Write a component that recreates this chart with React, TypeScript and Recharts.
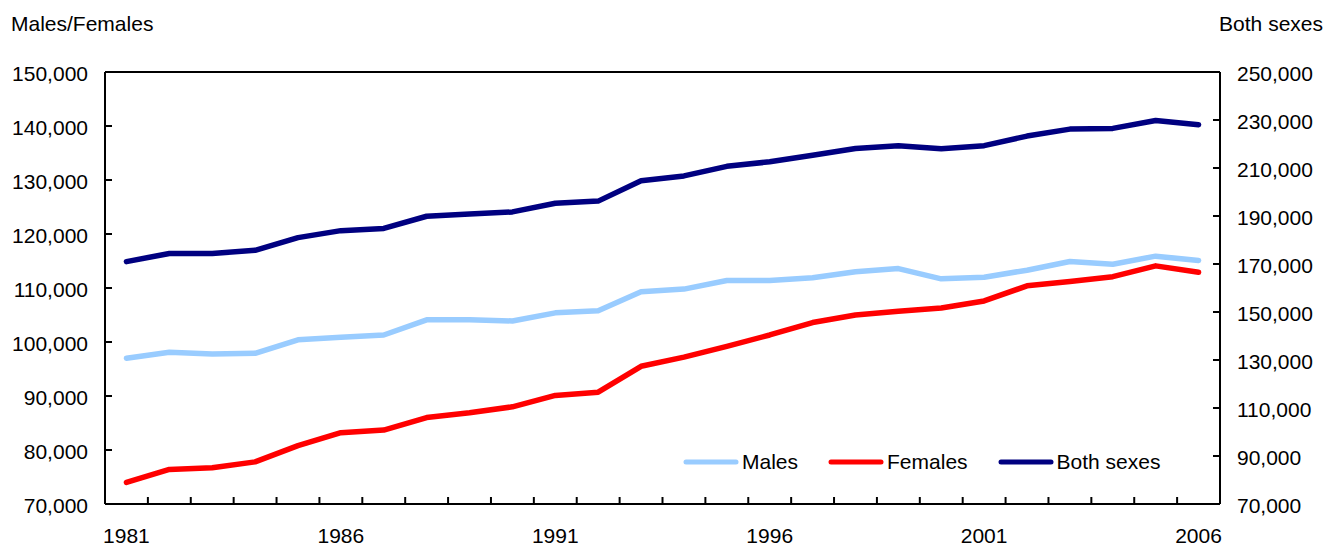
import { Legend, Line, LineChart, ReferenceLine, XAxis, YAxis } from "recharts";

const years = [
  1981, 1982, 1983, 1984, 1985, 1986, 1987, 1988, 1989, 1990, 1991, 1992, 1993,
  1994, 1995, 1996, 1997, 1998, 1999, 2000, 2001, 2002, 2003, 2004, 2005, 2006,
];
const males = [
  97000, 98100, 97800, 97900, 100400, 100900, 101300, 104100, 104100, 103900,
  105400, 105800, 109300, 109800, 111400, 111400, 111900, 113000, 113600, 111700,
  112000, 113300, 114900, 114400, 115900, 115100,
];
const females = [
  74000, 76400, 76700, 77800, 80800, 83200, 83700, 86000, 86900, 88000, 90100,
  90700, 95500, 97200, 99200, 101300, 103600, 105000, 105700, 106300, 107600,
  110400, 111200, 112100, 114100, 112900,
];
const bothSexes = [
  171000, 174400, 174400, 175700, 181000, 183900, 184800, 189900, 190800, 191700,
  195300, 196200, 204700, 206700, 210700, 212600, 215300, 218100, 219300, 218000,
  219300, 223300, 226200, 226500, 229800, 228000,
];
const seriesNames = ["Males", "Females", "Both sexes"];
const yearLabels = [1981, 1986, 1991, 1996, 2001, 2006];
const leftTicks = [70000, 80000, 90000, 100000, 110000, 120000, 130000, 140000, 150000];
const rightTicks = [70000, 90000, 110000, 130000, 150000, 170000, 190000, 210000, 230000, 250000];

const data = years.map((year, i) => ({
  year,
  males: males[i],
  females: females[i],
  both: bothSexes[i],
}));

// tick marks sit between the years, labels only every fifth year
const yearBoundaries = years.slice(0, -1).map((y) => y + 0.5);
const xTicks = [...yearBoundaries, ...yearLabels].sort((a, b) => a - b);

const font = '"Liberation Sans", Arial, sans-serif';
const fontSize = 21;
const tickLen = 7;

const fmt = (v: number) => v.toLocaleString("en-US");

function XTick({ x, y, payload }: any) {
  const v = payload.value as number;
  if (Number.isInteger(v)) {
    return (
      <text x={x} y={y + 31} textAnchor="middle" dominantBaseline="central"
        fontSize={fontSize} fontFamily={font} fill="#000">
        {v}
      </text>
    );
  }
  return <line x1={x} y1={y} x2={x} y2={y - tickLen} stroke="#000" strokeWidth={2} />;
}

function LeftTick({ x, y, payload }: any) {
  return (
    <g>
      <line x1={x} y1={y} x2={x + tickLen} y2={y} stroke="#000" strokeWidth={2} />
      <text x={x - 17} y={y + 1} textAnchor="end" dominantBaseline="central"
        fontSize={fontSize} fontFamily={font} fill="#000">
        {fmt(payload.value)}
      </text>
    </g>
  );
}

function RightTick({ x, y, payload }: any) {
  return (
    <g>
      <line x1={x - tickLen} y1={y} x2={x} y2={y} stroke="#000" strokeWidth={2} />
      <text x={x + 17} y={y + 1} textAnchor="start" dominantBaseline="central"
        fontSize={fontSize} fontFamily={font} fill="#000">
        {fmt(payload.value)}
      </text>
    </g>
  );
}

function LegendContent({ payload }: any) {
  const items = [...(payload || [])].sort(
    (a: any, b: any) => seriesNames.indexOf(a.value) - seriesNames.indexOf(b.value)
  );
  return (
    <div style={{ display: "flex", alignItems: "center", gap: 30, fontFamily: font }}>
      {items.map((entry: any) => (
        <div key={entry.value} style={{ display: "flex", alignItems: "center" }}>
          <svg width={56} height={10}>
            <line x1={3} y1={5} x2={53} y2={5} stroke={entry.color}
              strokeWidth={5} strokeLinecap="round" />
          </svg>
          <span style={{ marginLeft: 3, fontSize, lineHeight: "21px", color: "#000" }}>
            {entry.value}
          </span>
        </div>
      ))}
    </div>
  );
}

export default function App() {
  const titleStyle = {
    position: "absolute" as const,
    top: 13,
    fontSize,
    lineHeight: "21px",
    fontFamily: font,
    color: "#000",
    whiteSpace: "nowrap" as const,
  };

  return (
    <div style={{ position: "absolute", left: 0, top: 0, width: 1327, height: 546, background: "#fff" }}>
      <span style={{ ...titleStyle, left: 11 }}>Males/Females</span>
      <span style={{ ...titleStyle, right: 4 }}>Both sexes</span>
      <LineChart width={1327} height={546} data={data}
        margin={{ top: 72, right: 0, bottom: 0, left: 0 }}>
        <XAxis
          type="number"
          dataKey="year"
          domain={[1980.5, 2006.5]}
          ticks={xTicks}
          interval={0}
          height={42}
          tickSize={0}
          tickMargin={0}
          tickLine={false}
          axisLine={{ stroke: "#000", strokeWidth: 2 }}
          tick={<XTick />}
        />
        <YAxis
          yAxisId="left"
          domain={[70000, 150000]}
          ticks={leftTicks}
          interval={0}
          width={105}
          tickSize={0}
          tickMargin={0}
          tickLine={false}
          axisLine={{ stroke: "#000", strokeWidth: 2 }}
          tick={<LeftTick />}
        />
        <YAxis
          yAxisId="right"
          orientation="right"
          domain={[70000, 250000]}
          ticks={rightTicks}
          interval={0}
          width={107}
          tickSize={0}
          tickMargin={0}
          tickLine={false}
          axisLine={{ stroke: "#000", strokeWidth: 2 }}
          tick={<RightTick />}
        />
        <ReferenceLine yAxisId="left" y={150000} stroke="#000" strokeWidth={2} />
        <Line yAxisId="left" dataKey="males" name="Males" stroke="#99CCFF"
          strokeWidth={5.5} strokeLinecap="round" strokeLinejoin="round"
          dot={false} activeDot={false} isAnimationActive={false} />
        <Line yAxisId="left" dataKey="females" name="Females" stroke="#FF0000"
          strokeWidth={5.5} strokeLinecap="round" strokeLinejoin="round"
          dot={false} activeDot={false} isAnimationActive={false} />
        <Line yAxisId="right" dataKey="both" name="Both sexes" stroke="#000080"
          strokeWidth={5.5} strokeLinecap="round" strokeLinejoin="round"
          dot={false} activeDot={false} isAnimationActive={false} />
        <Legend
          layout="horizontal"
          verticalAlign="middle"
          align="center"
          content={<LegendContent />}
          wrapperStyle={{ left: 683, top: 451, width: "auto", height: "auto" }}
        />
      </LineChart>
    </div>
  );
}
